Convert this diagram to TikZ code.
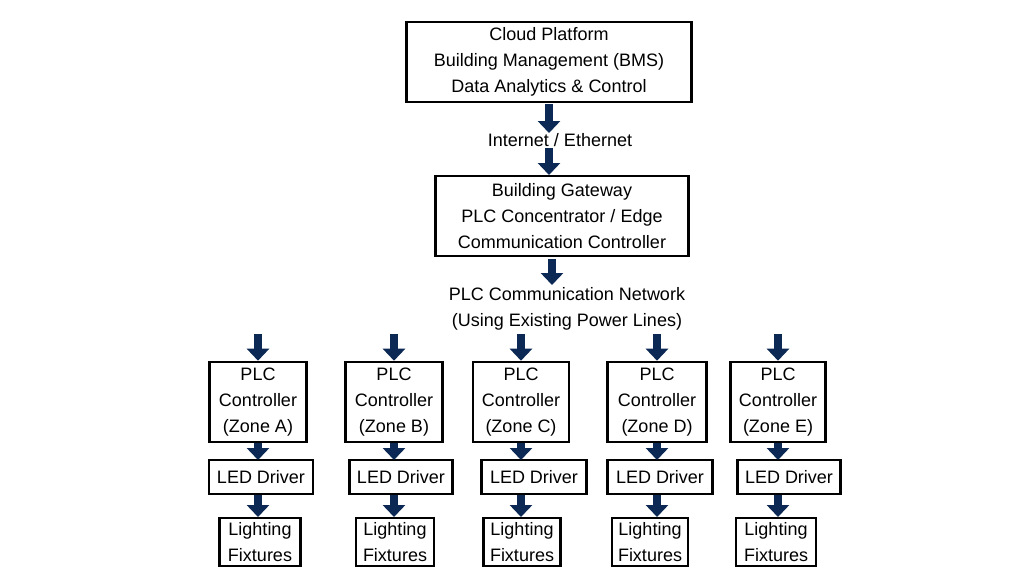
\documentclass[tikz,border=0pt]{standalone}
\usepackage{fontspec}
\setmainfont{Liberation Sans}
\usetikzlibrary{arrows.meta}
\begin{document}
\begin{tikzpicture}[x=1pt,y=-1pt,
  box/.style={draw, line width=2.6pt, inner sep=0pt, align=center, font=\fontsize{18}{26}\selectfont},
  lbl/.style={inner sep=0pt, align=center, font=\fontsize{18}{26}\selectfont},
  blk/.style={draw=navy, line width=8pt, -{Triangle[width=22pt,length=12pt]}}]
  \definecolor{navy}{RGB}{12,40,84}
  \useasboundingbox (0,0) rectangle (1024,576);

  \node[box, minimum width=285, minimum height=80] (cloud) at (549,62)
    {Cloud Platform\\Building Management (BMS)\\Data Analytics \& Control};
  \node[lbl] (inet) at (560,140) {Internet / Ethernet};
  \node[box, minimum width=253, minimum height=80] (gw) at (562,216)
    {Building Gateway\\PLC Concentrator / Edge\\Communication Controller};
  \node[lbl] (net) at (567,309) {PLC Communication Network\\(Using Existing Power Lines)};

  \draw[blk] (549,104) -- (549,133);
  \draw[blk] (549,148) -- (549,175);
  \draw[blk] (552,259) -- (552,285);

  % zones
  \foreach \z/\px/\pw/\lx/\lw/\fx/\fw in {A/258/97/261/104/260/81,
      B/394/97/401/103/395/78, C/521/96/534/105/522/77,
      D/657/99/660/105/650/76, E/778/95/789/103/776/80} {
    \coordinate (top\z) at (\px,334);
    \node[box, minimum width=\pw, minimum height=80] (plc\z) at (\px,402)
      {PLC\\Controller\\(Zone \z)};
    \node[box, minimum width=\lw, minimum height=34] (led\z) at (\lx,477) {LED Driver};
    \node[box, minimum width=\fw, minimum height=48] (fix\z) at (\fx,542) {Lighting\\Fixtures};
    \draw[blk] (top\z) -- (plc\z.north);
    \draw[blk] (plc\z.south) -- (\px,460);
    \draw[blk] (\px,495) -- (\px,517);
  }
\end{tikzpicture}
\end{document}
